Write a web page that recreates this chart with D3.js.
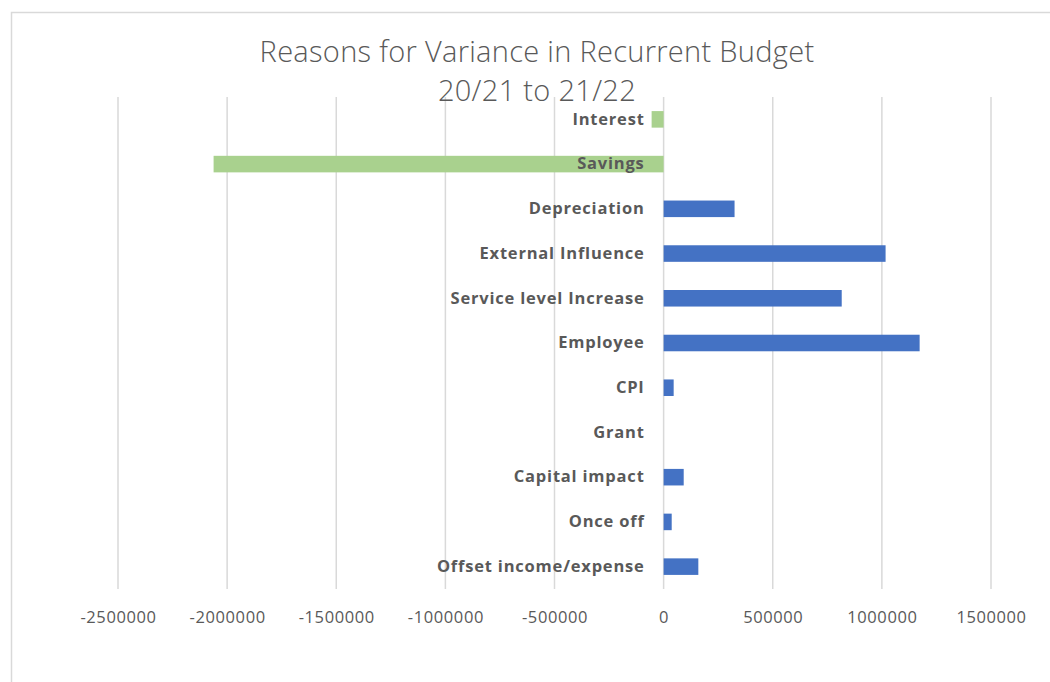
<!DOCTYPE html>
<html>
<head>
<meta charset="utf-8">
<script src="https://cdn.jsdelivr.net/npm/d3@7"></script>
<style>
  html, body { margin: 0; padding: 0; background: #fff; }
  svg { display: block; }
</style>
</head>
<body>
<svg id="chart" width="1050" height="682"></svg>
<script>
// Variance drivers, top to bottom as listed on the category axis
const categories = [
  "Interest", "Savings", "Depreciation", "External Influence",
  "Service level Increase", "Employee", "CPI", "Grant",
  "Capital impact ", "Once off", "Offset income/expense"
];
const values = [
  -55000, -2062000, 325000, 1017000,
  816000, 1173000, 46000, 0,
  92000, 37000, 159000
];
// Colour group per bar: reductions in green, increases in blue
const groups = [
  "reduction", "reduction", "increase", "increase",
  "increase", "increase", "increase", "increase",
  "increase", "increase", "increase"
];
const tickValues = [-2500000, -2000000, -1500000, -1000000, -500000, 0, 500000, 1000000, 1500000];
const titleLines = ["Reasons for Variance in Recurrent Budget", "20/21 to 21/22"];

const svg = d3.select("#chart");
const W = 1050, H = 682;

// Chart frame
svg.append("rect")
  .attr("x", 11.5).attr("y", 12.5)
  .attr("width", W + 10).attr("height", H + 10)
  .attr("fill", "#fff").attr("stroke", "#d9d9d9").attr("stroke-width", 1.5);

const plot = { left: 118, right: 991, top: 97, bottom: 589 };

const x = d3.scaleLinear()
  .domain([-2500000, 1500000])
  .range([plot.left, plot.right]);

const y = d3.scaleBand()
  .domain(categories)
  .range([plot.top, plot.bottom])
  .paddingInner(0.63)
  .paddingOuter(0.315);

const color = d3.scaleOrdinal()
  .domain(["reduction", "increase"])
  .range(["#a9d18e", "#4472c4"]);

// Vertical gridlines
svg.append("g")
  .selectAll("line")
  .data(tickValues)
  .join("line")
  .attr("x1", d => x(d)).attr("x2", d => x(d))
  .attr("y1", plot.top).attr("y2", plot.bottom)
  .attr("stroke", "#d9d9d9").attr("stroke-width", 1.5);

// Value axis labels (plain hyphen for negatives)
const xAxis = d3.axisBottom(x)
  .tickValues(tickValues)
  .tickFormat(d => String(d))
  .tickSize(0)
  .tickPadding(0);

const gx = svg.append("g")
  .attr("transform", `translate(0, ${plot.bottom + 22})`)
  .call(xAxis);
gx.select(".domain").remove();
gx.selectAll("text")
  .attr("fill", "#595959")
  .attr("font-family", "'Open Sans', sans-serif")
  .attr("font-size", 16.5)
  .attr("letter-spacing", 0.6)
  .attr("dy", "0.71em");

// Bars
svg.append("g")
  .selectAll("rect")
  .data(categories.map((c, i) => ({ c, v: values[i], g: groups[i] })))
  .join("rect")
  .attr("x", d => x(Math.min(0, d.v)))
  .attr("y", d => y(d.c))
  .attr("width", d => Math.abs(x(d.v) - x(0)))
  .attr("height", y.bandwidth())
  .attr("fill", d => color(d.g));

// Category labels sit beside the zero line
const yAxis = d3.axisLeft(y).tickSize(0).tickPadding(19);
const gy = svg.append("g")
  .attr("transform", `translate(${x(0)}, 0)`)
  .call(yAxis);
gy.select(".domain").remove();
gy.selectAll("text")
  .attr("fill", "#595959")
  .attr("font-family", "'Open Sans', Lato, sans-serif")
  .attr("font-weight", "bold")
  .attr("font-size", 16.5)
  .attr("letter-spacing", 0.8);

// Title
svg.append("text")
  .attr("x", 537).attr("y", 62)
  .attr("text-anchor", "middle")
  .attr("fill", "#595959")
  .attr("font-family", "'Open Sans', Lato, sans-serif")
  .attr("font-weight", 300)
  .attr("font-size", 29)
  .attr("letter-spacing", 0.3)
  .selectAll("tspan")
  .data(titleLines)
  .join("tspan")
  .attr("x", 537)
  .attr("dy", (d, i) => i === 0 ? 0 : 38.5)
  .text(d => d);
</script>
</body>
</html>
